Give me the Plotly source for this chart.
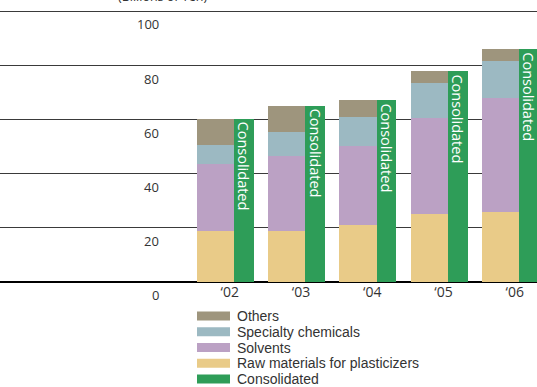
import plotly.graph_objects as go

# Fiscal years and sales by segment (billions of yen)
years = ["\u201802", "\u201803", "\u201804", "\u201805", "\u201806"]
raw_materials = [19.0, 18.7, 20.9, 25.3, 25.7]
solvents = [24.7, 27.9, 29.2, 35.4, 42.3]
specialty = [6.8, 8.7, 10.7, 12.7, 13.6]
others = [9.9, 9.9, 6.3, 4.4, 4.4]
consolidated = [60.4, 65.2, 67.1, 77.8, 86.0]

y_ticks = [0, 20, 40, 60, 80, 100]
unit_label = "(Billions of Yen)"

segment_names = ["Raw materials for plasticizers", "Solvents", "Specialty chemicals", "Others"]
segment_values = [raw_materials, solvents, specialty, others]
segment_colors = ["#E9CB88", "#BBA1C4", "#9CB9C2", "#9E957D"]
consolidated_name = "Consolidated"
consolidated_color = "#2E9D58"

FONT = "Open Sans"
LEGEND_FONT = "Liberation Sans"
TEXT = "#333333"

pos = list(range(len(years)))
seg_x = [p for p in pos]
con_x = [p + 0.4 for p in pos]

fig = go.Figure()

for name, vals, col in zip(segment_names, segment_values, segment_colors):
    fig.add_trace(go.Bar(
        x=seg_x, y=vals, name=name, width=0.52,
        marker=dict(color=col, line=dict(width=0)),
        showlegend=False,
    ))

fig.add_trace(go.Bar(
    x=con_x, y=consolidated, name=consolidated_name, width=0.28,
    base=0,
    marker=dict(color=consolidated_color, line=dict(width=0)),
    text=[consolidated_name] * len(years),
    textposition="inside", insidetextanchor="end", textangle=90,
    constraintext="none",
    textfont=dict(family=FONT, size=14.5, color="white"),
    showlegend=False,
))

# y tick labels sit under their gridlines
annotations = []
for v in y_ticks:
    annotations.append(dict(
        x=161 / 537, xref="paper", y=v, yref="y",
        text=str(v), showarrow=False, xanchor="right", yanchor="top",
        yshift=-2, font=dict(family=FONT, size=13, color=TEXT),
    ))

annotations.append(dict(
    x=162 / 537, xref="paper", y=1, yref="paper", yshift=-1,
    text=unit_label, showarrow=False, xanchor="center", yanchor="bottom",
    font=dict(family=FONT, size=12.5, color=TEXT),
))

# legend, drawn as swatches with labels below the plot
legend_items = list(zip(segment_names, segment_colors))[::-1] + [(consolidated_name, consolidated_color)]
shapes = []
row0 = 316.0
row_h = 15.75
H = 387.0
for i, (name, col) in enumerate(legend_items):
    cy = row0 + i * row_h
    y_paper_top = (H - 105 - (cy - 4.5)) / 276.0
    y_paper_bot = (H - 105 - (cy + 4.5)) / 276.0
    y_mid = (H - 105 - cy) / 276.0
    shapes.append(dict(
        type="rect", xref="paper", yref="paper",
        x0=197 / 537, x1=230 / 537, y0=y_paper_bot, y1=y_paper_top,
        fillcolor=col, line=dict(width=0),
    ))
    annotations.append(dict(
        x=235 / 537, xref="paper", y=y_mid, yref="paper",
        text=name, showarrow=False, xanchor="left", yanchor="middle",
        font=dict(family=LEGEND_FONT, size=14, color=TEXT),
    ))

fig.update_layout(
    barmode="stack",
    width=537, height=387,
    margin=dict(l=0, r=0, t=6, b=105, pad=0),
    paper_bgcolor="white", plot_bgcolor="white",
    font=dict(family=FONT, color=TEXT),
    xaxis=dict(
        range=[-3.0246, 4.5124], tickvals=[p + 0.2 for p in pos], ticktext=years,
        showgrid=False, zeroline=False, showline=False, ticks="",
        tickfont=dict(family=FONT, size=14, color=TEXT),
    ),
    yaxis=dict(
        range=[0, 102.0], tickvals=y_ticks, showticklabels=False,
        showgrid=True, gridcolor="#3a3a3a", gridwidth=1,
        zeroline=True, zerolinecolor="#000000", zerolinewidth=1.5,
        showline=False, ticks="",
    ),
    shapes=shapes,
    annotations=annotations,
    showlegend=False,
)

fig.write_html("out.html")
